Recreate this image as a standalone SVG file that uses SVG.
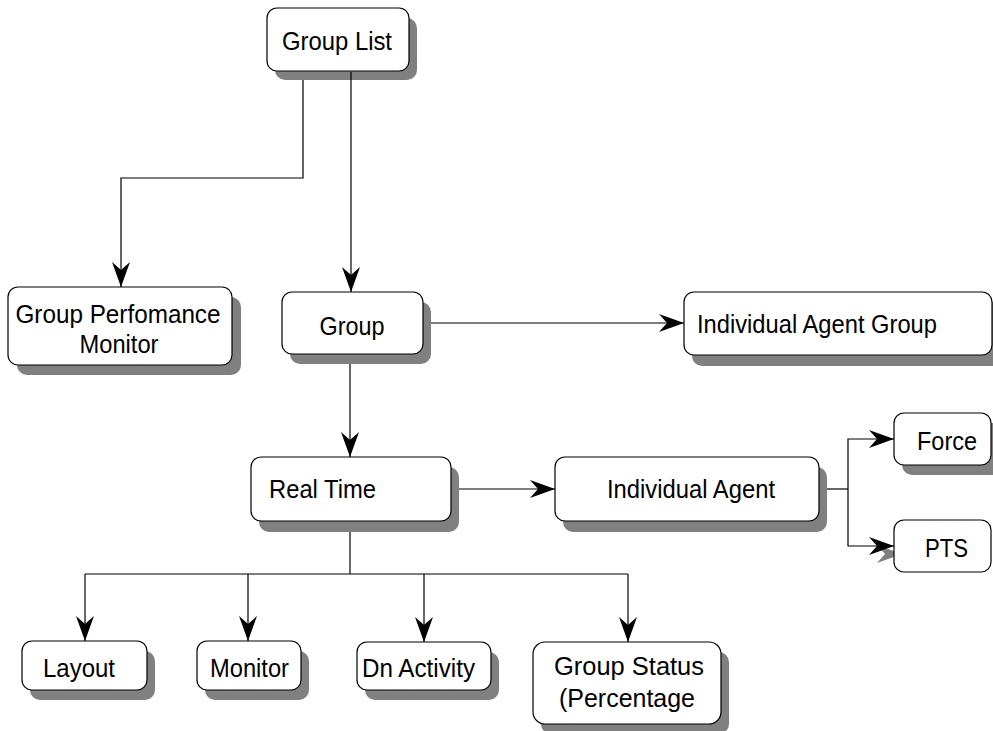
<svg xmlns="http://www.w3.org/2000/svg" width="993" height="731" viewBox="0 0 993 731">
  <defs>
    <marker id="arrow" markerUnits="userSpaceOnUse" markerWidth="28" markerHeight="22" viewBox="-26 -11 28 22" refX="0" refY="0" orient="auto">
      <path d="M0,0 L-25,-9 L-17,0 L-25,9 Z" fill="#000"/>
    </marker>
  </defs>
  <style>
    .shadow { fill: #808080; }
    .box { fill: #fff; stroke: #000; stroke-width: 1.2; }
    .label { font-family: "Liberation Sans", Arial, sans-serif; font-size: 26px; fill: #000; }
    .mid { text-anchor: middle; }
    .wire { fill: none; stroke: #000; stroke-width: 1.2; }
    .arrowed { marker-end: url(#arrow); }
  </style>
  <rect width="993" height="731" fill="#fff"/>

  <!-- connectors, drawn below the node boxes -->
  <g id="connectors">
    <!-- Group List to Group Perfomance Monitor -->
    <path class="wire arrowed" d="M303,72 V178 H121 V287"/>
    <!-- Group to Individual Agent Group -->
    <path class="wire arrowed" d="M423,323 H684"/>
    <!-- Group to Real Time -->
    <path class="wire arrowed" d="M350,354 V457"/>
    <!-- Real Time to Individual Agent -->
    <path class="wire arrowed" d="M451,489 H555"/>
    <!-- Individual Agent to Force / PTS -->
    <path class="wire" d="M819,489 H848"/>
    <path class="wire arrowed" d="M848,489 V439 H894"/>
    <polygon points="902,554 877,545 885,554 877,563" fill="#808080"/>
    <path class="wire arrowed" d="M848,489 V546 H894"/>
    <!-- Real Time bus to the four detail views -->
    <path class="wire" d="M350,521 V574"/>
    <path class="wire" d="M85,574 H628"/>
    <path class="wire arrowed" d="M85,574 V641"/>
    <path class="wire arrowed" d="M248,574 V641"/>
    <path class="wire arrowed" d="M424,574 V642"/>
    <path class="wire arrowed" d="M628,574 V642"/>
  </g>

  <g id="node-group-perfomance-monitor">
    <rect class="shadow" x="17" y="297" width="224" height="78" rx="10"/>
    <rect class="box" x="8" y="287" width="224" height="78" rx="10"/>
    <text class="label mid" x="118" y="323" textLength="205" lengthAdjust="spacingAndGlyphs">Group Perfomance</text>
    <text class="label mid" x="119" y="353" textLength="79" lengthAdjust="spacingAndGlyphs">Monitor</text>
  </g>

  <g id="node-group">
    <rect class="shadow" x="290" y="302" width="141" height="62" rx="10"/>
    <rect class="box" x="282" y="292" width="141" height="62" rx="10"/>
    <text class="label mid" x="352" y="335" textLength="65" lengthAdjust="spacingAndGlyphs">Group</text>
  </g>

  <g id="node-individual-agent-group">
    <rect class="shadow" x="692" y="302" width="310" height="64" rx="10"/>
    <rect class="box" x="684" y="292" width="308" height="63" rx="10"/>
    <text class="label" x="697" y="333" textLength="240" lengthAdjust="spacingAndGlyphs">Individual Agent Group</text>
  </g>

  <g id="node-real-time">
    <rect class="shadow" x="259" y="467" width="200" height="65" rx="10"/>
    <rect class="box" x="251" y="457" width="200" height="64" rx="10"/>
    <text class="label" x="269" y="498" textLength="107" lengthAdjust="spacingAndGlyphs">Real Time</text>
  </g>

  <g id="node-individual-agent">
    <rect class="shadow" x="563" y="467" width="264" height="65" rx="10"/>
    <rect class="box" x="555" y="457" width="264" height="64" rx="10"/>
    <text class="label" x="607" y="498" textLength="168" lengthAdjust="spacingAndGlyphs">Individual Agent</text>
  </g>

  <g id="node-force">
    <rect class="shadow" x="902" y="423" width="100" height="52" rx="10"/>
    <rect class="box" x="894" y="413" width="97" height="52" rx="10"/>
    <text class="label" x="917" y="450" textLength="60" lengthAdjust="spacingAndGlyphs">Force</text>
  </g>

  <g id="node-pts">
    <rect class="box" x="894" y="520" width="97" height="52" rx="10"/>
    <text class="label" x="925" y="557" textLength="43" lengthAdjust="spacingAndGlyphs">PTS</text>
  </g>

  <g id="node-layout">
    <rect class="shadow" x="30" y="651" width="125" height="49" rx="10"/>
    <rect class="box" x="22" y="641" width="125" height="49" rx="10"/>
    <text class="label" x="43" y="677" textLength="72" lengthAdjust="spacingAndGlyphs">Layout</text>
  </g>

  <g id="node-monitor">
    <rect class="shadow" x="205" y="651" width="104" height="49" rx="10"/>
    <rect class="box" x="197" y="641" width="104" height="49" rx="10"/>
    <text class="label" x="210" y="677" textLength="79" lengthAdjust="spacingAndGlyphs">Monitor</text>
  </g>

  <g id="node-dn-activity">
    <rect class="shadow" x="365" y="652" width="134" height="48" rx="10"/>
    <rect class="box" x="357" y="642" width="134" height="48" rx="10"/>
    <text class="label" x="362" y="677" textLength="113" lengthAdjust="spacingAndGlyphs">Dn Activity</text>
  </g>

  <g id="node-group-status">
    <rect class="shadow" x="541" y="652" width="188" height="82" rx="10"/>
    <rect class="box" x="533" y="642" width="188" height="82" rx="12"/>
    <text class="label" x="554" y="675" textLength="150" lengthAdjust="spacingAndGlyphs">Group Status</text>
    <text class="label" x="559" y="707" textLength="136" lengthAdjust="spacingAndGlyphs">(Percentage</text>
  </g>

  <g id="node-group-list">
    <rect class="shadow" x="275" y="18" width="142" height="62" rx="10"/>
    <rect class="box" x="267" y="8" width="142" height="63" rx="10"/>
    <text class="label mid" x="337" y="50" textLength="110" lengthAdjust="spacingAndGlyphs">Group List</text>
  </g>

  <!-- the main trunk runs over the Group List shadow -->
  <g id="connector-trunk">
    <path class="wire arrowed" d="M351,72 V292" stroke-width="2"/>
  </g>
</svg>
